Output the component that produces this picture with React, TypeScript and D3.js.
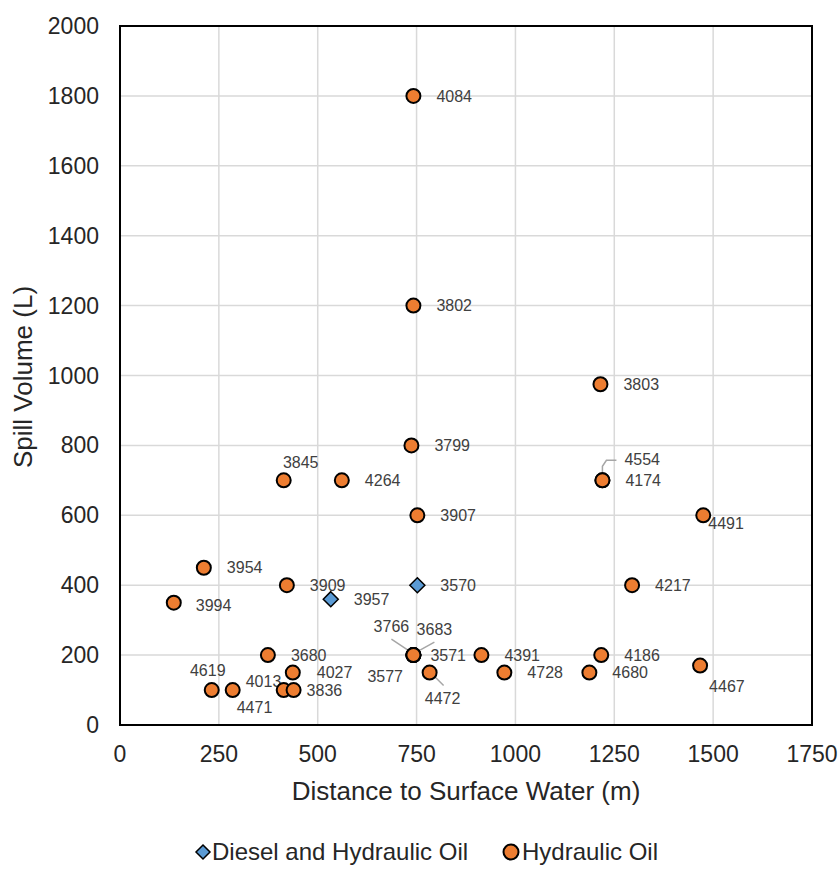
import React from "react";
import * as d3 from "d3";

// spill records
const spillIds = [
  "4084", "3802", "3803", "3799", "3845", "4264", "4554", "4174", "3907", "4491",
  "3954", "3909", "3994", "4217", "3680", "3766", "3683", "3571", "3577", "4391",
  "4186", "4027", "4472", "4728", "4680", "4467", "4619", "4471", "4013", "3836",
];
const distances = [
  742, 742, 1215, 737, 414, 561, 1220, 1220, 752, 1475,
  212, 422, 136, 1295, 374, 742, 742, 742, 742, 914,
  1217, 437, 783, 972, 1187, 1467, 232, 285, 414, 439,
];
const volumes = [
  1800, 1200, 975, 800, 700, 700, 700, 700, 600, 600,
  450, 400, 350, 400, 200, 200, 200, 200, 200, 200,
  200, 150, 150, 150, 150, 170, 100, 100, 100, 100,
];

// diesel + hydraulic oil spills
const dieselIds = ["3570", "3957"];
const dieselDistances = [752, 533];
const dieselVolumes = [400, 360];

const xTicks = [0, 250, 500, 750, 1000, 1250, 1500, 1750];
const yTicks = [0, 200, 400, 600, 800, 1000, 1200, 1400, 1600, 1800, 2000];

// label placement (offset from point, px) and optional leader lines
const labelPos: Record<string, { dx: number; dy: number; anchor?: string; leader?: number[][] }> = {
  "3845": { dx: 17, dy: -18, anchor: "middle" },
  "4554": { dx: 22, dy: -21, leader: [[0, -2], [0, -14], [4, -20], [14, -20]] },
  "4491": { dx: 5, dy: 8 },
  "3994": { dx: 22, dy: 3 },
  "3766": { dx: -22, dy: -29, anchor: "middle", leader: [[-22, -16], [-4, -4]] },
  "3683": { dx: 21, dy: -26, anchor: "middle", leader: [[21, -13], [3, -3]] },
  "3571": { dx: 17, dy: 0 },
  "3577": { dx: -46, dy: 21 },
  "4027": { dx: 24, dy: 0 },
  "4472": { dx: 13, dy: 26, anchor: "middle", leader: [[4, 3], [14, 13]] },
  "4467": { dx: 9, dy: 21 },
  "4619": { dx: -4, dy: -20, anchor: "middle" },
  "4471": { dx: 4, dy: 17 },
  "4013": { dx: -38, dy: -9 },
  "3836": { dx: 13, dy: 0 },
};

const W = 839;
const H = 871;
const left = 120;
const right = 812;
const top = 26;
const bottom = 725;

const orange = "#ED7D31";
const blue = "#5B9BD5";
const font = "Arial, 'Liberation Sans', sans-serif";

export default function App() {
  const x = d3.scaleLinear().domain([0, 1750]).range([left, right]);
  const y = d3.scaleLinear().domain([0, 2000]).range([bottom, top]);
  const line = d3.line();

  const label = (id: string, px: number, py: number) => {
    const p = labelPos[id] || { dx: 23, dy: 0 };
    return (
      <g key={"l" + id}>
        {p.leader && (
          <path
            d={line(p.leader.map(([a, b]) => [px + a, py + b]) as [number, number][]) || ""}
            fill="none"
            stroke="#a6a6a6"
            strokeWidth={1.5}
          />
        )}
        <text
          x={px + p.dx}
          y={py + p.dy}
          dy="0.35em"
          textAnchor={p.anchor || "start"}
          fontSize={16}
          fill="#404040"
        >
          {id}
        </text>
      </g>
    );
  };

  return (
    <svg
      width={W}
      height={H}
      style={{ position: "absolute", left: 0, top: 0, background: "#fff" }}
      fontFamily={font}
    >
      {/* grid */}
      {xTicks.map((t) => (
        <line key={"gx" + t} x1={x(t)} x2={x(t)} y1={top} y2={bottom} stroke="#d9d9d9" strokeWidth={1.5} />
      ))}
      {yTicks.map((t) => (
        <line key={"gy" + t} x1={left} x2={right} y1={y(t)} y2={y(t)} stroke="#d9d9d9" strokeWidth={1.5} />
      ))}
      <rect x={left} y={top} width={right - left} height={bottom - top} fill="none" stroke="#000" strokeWidth={2} />

      {/* tick labels */}
      {xTicks.map((t) => (
        <text key={"tx" + t} x={x(t)} y={bottom + 37} textAnchor="middle" fontSize={23} fill="#262626">
          {t}
        </text>
      ))}
      {yTicks.map((t) => (
        <text key={"ty" + t} x={left - 21} y={y(t)} dy="0.35em" textAnchor="end" fontSize={23} fill="#262626">
          {t}
        </text>
      ))}

      {/* axis titles */}
      <text x={466} y={800} textAnchor="middle" fontSize={26} fill="#262626">
        Distance to Surface Water (m)
      </text>
      <text transform={`translate(32,377) rotate(-90)`} textAnchor="middle" fontSize={26} fill="#262626">
        Spill Volume (L)
      </text>

      {/* labels */}
      {spillIds.map((id, i) => label(id, x(distances[i]), y(volumes[i])))}
      {dieselIds.map((id, i) => label(id, x(dieselDistances[i]), y(dieselVolumes[i])))}

      {/* markers */}
      {spillIds.map((id, i) => (
        <circle key={"c" + id} cx={x(distances[i])} cy={y(volumes[i])} r={7} fill={orange} stroke="#000" strokeWidth={2} />
      ))}
      {dieselIds.map((id, i) => (
        <path
          key={"d" + id}
          transform={`translate(${x(dieselDistances[i])},${y(dieselVolumes[i])})`}
          d="M0,-7.5L7.5,0L0,7.5L-7.5,0Z"
          fill={blue}
          stroke="#000"
          strokeWidth={1.5}
        />
      ))}

      {/* legend */}
      <path transform="translate(203,852)" d="M0,-7L7,0L0,7L-7,0Z" fill={blue} stroke="#000" strokeWidth={1.5} />
      <text x={212} y={860} fontSize={24} fill="#262626">
        Diesel and Hydraulic Oil
      </text>
      <circle cx={511} cy={852} r={7.5} fill={orange} stroke="#000" strokeWidth={2} />
      <text x={522} y={860} fontSize={24} fill="#262626">
        Hydraulic Oil
      </text>
    </svg>
  );
}
